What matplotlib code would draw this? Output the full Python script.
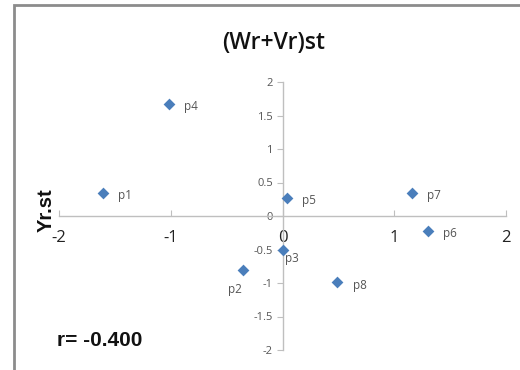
import matplotlib
matplotlib.use("Agg")
import matplotlib.pyplot as plt
from matplotlib.patches import Rectangle

labels = ["p1", "p2", "p3", "p4", "p5", "p6", "p7", "p8"]
x_vals = [-1.61, -0.35, 0.00, -1.02, 0.04, 1.30, 1.16, 0.49]
y_vals = [0.35, -0.81, -0.51, 1.67, 0.27, -0.22, 0.34, -0.99]
x_ticks = [-2, -1, 0, 1, 2]
y_ticks = [-2, -1.5, -1, -0.5, 0, 0.5, 1, 1.5, 2]
title = "(Wr+Vr)st"
ylabel = "Yr.st"
r_text = "r= -0.400"

fig = plt.figure(figsize=(5.2, 3.7), dpi=100)
fig.patch.set_facecolor("white")
# outer chart frame (partially cropped)
fig.patches.append(Rectangle((14/520, -0.1), 1.2, 1 - 5/370 + 0.1, transform=fig.transFigure,
                             fill=False, edgecolor="#8c8c8c", linewidth=2))

ax = fig.add_axes([59/520, 1 - 350/370, (506-59)/520, (350-82)/370])
ax.set_xlim(-2, 2)
ax.set_ylim(-2, 2)
for s in ["top", "right"]:
    ax.spines[s].set_visible(False)
ax.spines["left"].set_position(("data", 0))
ax.spines["bottom"].set_position(("data", 0))
ax.spines["left"].set_color("#bfbfbf")
ax.spines["bottom"].set_color("#bfbfbf")
ax.spines["left"].set_linewidth(1)
ax.spines["bottom"].set_linewidth(1)

ax.set_xticks(x_ticks)
ax.set_xticklabels([f"{t:g}" for t in x_ticks], fontsize=12, color="#222222", family="Open Sans")
ax.set_yticks(y_ticks)
ax.set_yticklabels([f"{t:g}" for t in y_ticks], fontsize=8, color="#555555", family="Open Sans")
ax.tick_params(axis="x", length=4, direction="in", color="#bfbfbf", pad=10)
ax.tick_params(axis="y", length=4, direction="out", color="#bfbfbf", pad=3)

ax.scatter(x_vals, y_vals, marker="D", s=36, color="#4a7ebb", zorder=3, linewidths=0)

offsets = {"p2": (-6, -14, "center"), "p3": (2, -6, "left")}
for lab, xv, yv in zip(labels, x_vals, y_vals):
    dx, dy, ha = offsets.get(lab, (11, -2, "left"))
    ax.annotate(lab, (xv, yv), xytext=(dx, dy), textcoords="offset points",
                ha=ha, va="center", fontsize=8.5, color="#555555", family="Open Sans")

fig.text(274/520, 1 - 43/370, title, ha="center", va="center", fontsize=16.5,
         family="Open Sans", fontweight="semibold", color="#111111")
fig.text(46/520, 1 - 210/370, ylabel, ha="center", va="center", rotation=90,
         fontsize=14.5, fontweight="bold", family="Liberation Sans", color="#111111")
fig.text(57/520, 1 - 341/370, r_text, ha="left", va="center", fontsize=15,
         fontweight="bold", family="Liberation Sans", color="#111111")

fig.savefig("out.png", dpi=100)
